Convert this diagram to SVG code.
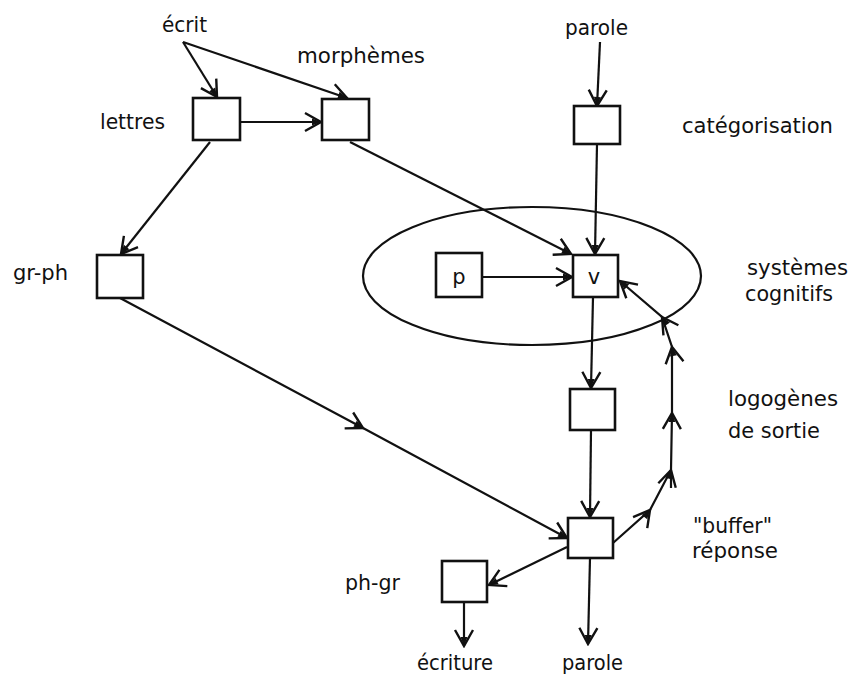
<svg xmlns="http://www.w3.org/2000/svg" width="854" height="678" viewBox="0 0 854 678">
<defs>
<marker id="ah" viewBox="-19 -12 21 24" refX="0" refY="0" markerWidth="21" markerHeight="24" orient="auto" markerUnits="userSpaceOnUse">
<path d="M-16,-9 L0,0 L-16,9" fill="none" stroke="#111" stroke-width="2.4"/>
<path d="M-9,-3.5 L0,0 L-9,3.5 Z" fill="#111"/>
</marker>
</defs>
<style>
.box{fill:#fff;stroke:#111;stroke-width:2.6}
.ln{fill:none;stroke:#111;stroke-width:2.2;marker-end:url(#ah)}
.mid{marker-mid:url(#ah)}
.plain{fill:none;stroke:#111;stroke-width:2.2}
text{font-family:"DejaVu Sans","Liberation Sans",sans-serif;font-size:21px;fill:#111}
</style>
<rect width="854" height="678" fill="#fff"/>
<g id="ellipse-systemes"><ellipse cx="532" cy="276" rx="169" ry="69" class="plain"/></g>
<g id="connectors">
<path class="ln" d="M183,42 L217,97"/>
<path class="ln" d="M183,42 L347,98"/>
<path class="ln" d="M240,122 L321,122"/>
<path class="ln" d="M210,142 L121,254"/>
<path class="ln" d="M350,142 L571,254"/>
<path class="ln" d="M600,42 L597,106"/>
<path class="ln" d="M597,144 L595,254"/>
<path class="ln" d="M482,277 L572,277"/>
<path class="ln" d="M593,297 L591,388"/>
<path class="ln" d="M591,430 L590,517"/>
<path class="ln mid" d="M120,298 L363,428 L567,538"/>
<path class="ln" d="M567,547 L489,585"/>
<path class="ln" d="M464,602 L464,646"/>
<path class="ln" d="M590,558 L588,644"/>
<path class="ln mid" d="M613,543 L650,510 L671,470 L672,413 L672,347 L662,317 L620,281"/>
<path class="plain" d="M671,470 L671,488"/>
</g>
<g id="node-lettres"><rect class="box" x="193" y="98" width="47" height="42"/><text x="100" y="129" textLength="65" lengthAdjust="spacingAndGlyphs">lettres</text></g>
<g id="node-morphemes"><rect class="box" x="322" y="99" width="47" height="41"/><text x="297" y="63" textLength="128" lengthAdjust="spacingAndGlyphs">morphèmes</text></g>
<g id="node-grph"><rect class="box" x="97" y="255" width="46" height="43"/><text x="13" y="280" textLength="55" lengthAdjust="spacingAndGlyphs">gr-ph</text></g>
<g id="node-categorisation"><rect class="box" x="574" y="106" width="46" height="38"/><text x="682" y="133" textLength="151" lengthAdjust="spacingAndGlyphs">catégorisation</text></g>
<g id="node-p"><rect class="box" x="436" y="253" width="46" height="44"/><text x="459" y="284" text-anchor="middle">p</text></g>
<g id="node-v"><rect class="box" x="573" y="255" width="45" height="42"/><text x="594" y="284" text-anchor="middle">v</text></g>
<g id="node-logogenes"><rect class="box" x="570" y="389" width="45" height="41"/><text x="728" y="406" textLength="110" lengthAdjust="spacingAndGlyphs">logogènes</text><text x="728" y="438" textLength="92" lengthAdjust="spacingAndGlyphs">de sortie</text></g>
<g id="node-buffer"><rect class="box" x="568" y="518" width="45" height="40"/><text x="693" y="533" textLength="79" lengthAdjust="spacingAndGlyphs">"buffer"</text><text x="692" y="558" textLength="86" lengthAdjust="spacingAndGlyphs">réponse</text></g>
<g id="node-phgr"><rect class="box" x="442" y="561" width="45" height="41"/><text x="345" y="590" textLength="55" lengthAdjust="spacingAndGlyphs">ph-gr</text></g>
<g id="labels">
<text x="162" y="32" textLength="45" lengthAdjust="spacingAndGlyphs">écrit</text>
<text x="565" y="35" textLength="63" lengthAdjust="spacingAndGlyphs">parole</text>
<text x="747" y="275" textLength="101" lengthAdjust="spacingAndGlyphs">systèmes</text>
<text x="745" y="301" textLength="88" lengthAdjust="spacingAndGlyphs">cognitifs</text>
<text x="417" y="670" textLength="76" lengthAdjust="spacingAndGlyphs">écriture</text>
<text x="562" y="670" textLength="61" lengthAdjust="spacingAndGlyphs">parole</text>
</g>
</svg>
